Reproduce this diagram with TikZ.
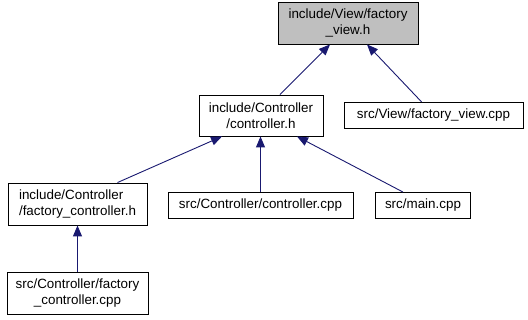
\documentclass[tikz,border=0pt]{standalone}
\usepackage{fontspec}
\setmainfont{Liberation Sans}
\usetikzlibrary{arrows.meta}
\definecolor{edgeblue}{HTML}{191970}
\definecolor{curfill}{HTML}{BFBFBF}
\begin{document}
\begin{tikzpicture}[x=1pt,y=-1pt,
  filebox/.style={draw=black, line width=0.9pt, fill=white, inner sep=0pt,
    align=center, font=\fontsize{13.4}{15.5}\selectfont},
  dep/.style={draw=edgeblue, line width=0.9pt,
    -{Triangle[length=11pt,width=9pt,fill=edgeblue]}},
]
\useasboundingbox (0,0) rectangle (528,320);

% header being documented
\node[filebox, fill=curfill, minimum width=140pt, minimum height=42pt] (top) at (348,23)
  {include/View/factory\\\_view.h};

% files that include it, directly or indirectly
\node[filebox, minimum width=124pt, minimum height=41pt] (ctl) at (261,115.5)
  {include/Controller\\/controller.h};
\node[filebox, minimum width=179pt, minimum height=26pt] (fvcpp) at (433.5,115.3)
  {src/View/factory\_view.cpp};
\node[filebox, align=left, minimum width=139pt, minimum height=42pt] (fch) at (77.5,204)
  {include/Controller\\/factory\_controller.h};
\node[filebox, minimum width=185pt, minimum height=26pt] (ctlcpp) at (260.5,205.5)
  {src/Controller/controller.cpp};
\node[filebox, minimum width=95pt, minimum height=26pt] (mainf) at (423,205.5)
  {src/main.cpp};
\node[filebox, minimum width=141pt, minimum height=42pt] (fccpp) at (77.5,293)
  {src/Controller/factory\\\_controller.cpp};

% include dependencies
\draw[dep] ([xshift=19pt]ctl.north) -- ([xshift=-18pt]top.south);
\draw[dep] ([xshift=-12pt]fvcpp.north) -- ([xshift=19pt]top.south);
\draw[dep] ([xshift=40pt]fch.north) -- ([xshift=-39pt]ctl.south);
\draw[dep] (ctlcpp.north) -- (ctlcpp.north |- ctl.south);
\draw[dep] ([xshift=-20pt]mainf.north) -- ([xshift=36pt]ctl.south);
\draw[dep] (fccpp.north) -- (fch.south);
\end{tikzpicture}
\end{document}
